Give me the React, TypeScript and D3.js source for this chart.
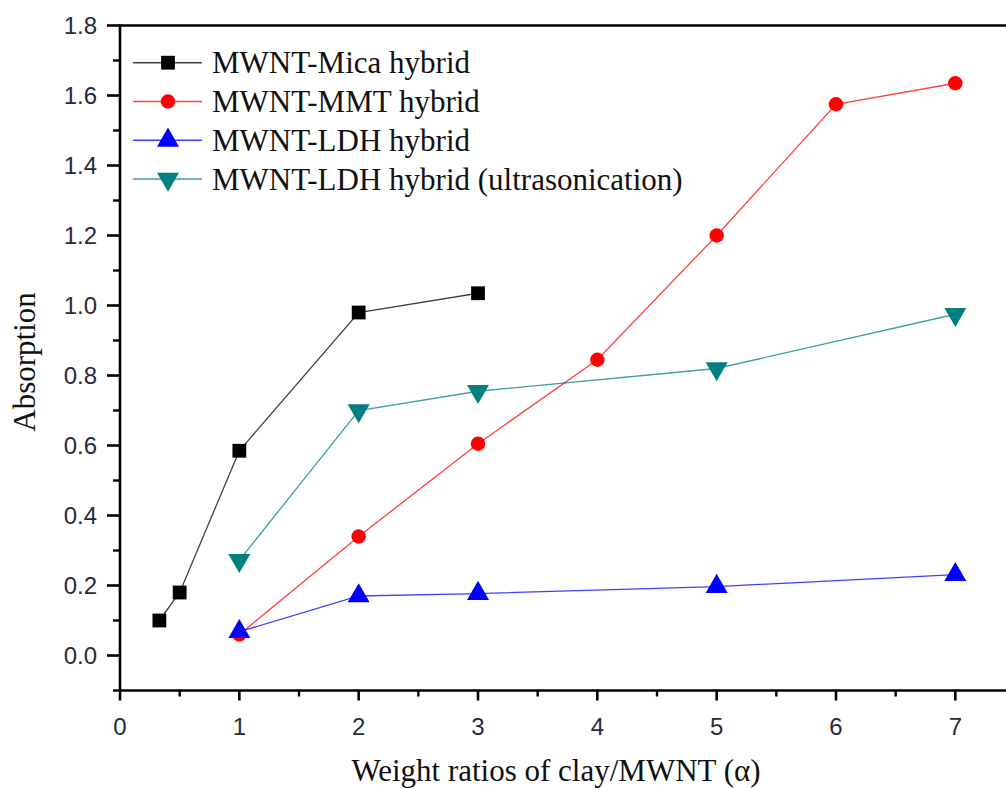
import React from "react";
import * as d3 from "d3";

const micaX = [0.33, 0.5, 1, 2, 3];
const micaY = [0.1, 0.18, 0.585, 0.98, 1.035];
const mmtX = [1, 2, 3, 4, 5, 6, 7];
const mmtY = [0.06, 0.34, 0.605, 0.845, 1.2, 1.575, 1.635];
const ldhX = [1, 2, 3, 5, 7];
const ldhY = [0.068, 0.17, 0.177, 0.197, 0.231];
const ldhUX = [1, 2, 3, 5, 7];
const ldhUY = [0.272, 0.7, 0.755, 0.82, 0.975];

const seriesNames = [
  "MWNT-Mica hybrid",
  "MWNT-MMT hybrid",
  "MWNT-LDH hybrid",
  "MWNT-LDH hybrid (ultrasonication)",
];

const xMajor = [0, 1, 2, 3, 4, 5, 6, 7];
const yMajor = [0, 0.2, 0.4, 0.6, 0.8, 1.0, 1.2, 1.4, 1.6, 1.8];

const W = 1006;
const H = 789;

export default function App() {
  const x = d3.scaleLinear().domain([0, 7.5]).range([120, 1015]);
  const y = d3.scaleLinear().domain([-0.1, 1.8]).range([690.5, 25.5]);

  const series = [
    { name: seriesNames[0], xs: micaX, ys: micaY, color: "#000000", sym: d3.symbolSquare, size: 190, rot: 0 },
    { name: seriesNames[1], xs: mmtX, ys: mmtY, color: "#ff0000", sym: d3.symbolCircle, size: 165, rot: 0 },
    { name: seriesNames[2], xs: ldhX, ys: ldhY, color: "#0000ff", sym: d3.symbolTriangle, size: 210, rot: 0 },
    { name: seriesNames[3], xs: ldhUX, ys: ldhUY, color: "#008080", sym: d3.symbolTriangle, size: 210, rot: 180 },
  ];

  const line = d3
    .line<[number, number]>()
    .x((d) => x(d[0]))
    .y((d) => y(d[1]));

  const xMinor = d3.range(0.5, 7.6, 1);
  const yMinor = d3.range(-0.1, 1.75, 0.2);

  const x0 = x(0);
  const yb = y(-0.1);
  const yt = y(1.8);

  const tickFont = "'Liberation Sans', Arial, sans-serif";
  const serif = "'Liberation Serif', 'Times New Roman', serif";

  return (
    <svg
      width={W}
      height={H}
      style={{ position: "absolute", left: 0, top: 0, background: "#fff" }}
    >
      <rect x={0} y={0} width={W} height={H} fill="#ffffff" />
      {/* series lines */}
      {series.map((s) => (
        <path
          key={s.name + "l"}
          d={line(s.xs.map((v, i) => [v, s.ys[i]] as [number, number])) || ""}
          fill="none"
          stroke={s.color}
          strokeWidth={1.3}
          opacity={0.75}
        />
      ))}
      {/* markers */}
      {series.map((s) =>
        s.xs.map((v, i) => (
          <path
            key={s.name + i}
            d={d3.symbol().type(s.sym).size(s.size)() || ""}
            transform={`translate(${x(v)},${y(s.ys[i])}) rotate(${s.rot})`}
            fill={s.color}
          />
        ))
      )}
      {/* axes */}
      <line x1={x0} x2={x0} y1={yt - 1} y2={yb + 1} stroke="#000" strokeWidth={2.6} />
      <line x1={x0 - 1} x2={W} y1={yb} y2={yb} stroke="#000" strokeWidth={2.6} />
      <line x1={x0 - 1} x2={W} y1={yt} y2={yt} stroke="#000" strokeWidth={2.6} />
      {yMajor.map((v) => (
        <g key={"ym" + v}>
          <line x1={x0 - 13} x2={x0} y1={y(v)} y2={y(v)} stroke="#000" strokeWidth={2.6} />
          <text
            x={97}
            y={y(v)}
            textAnchor="end"
            dominantBaseline="central"
            fontFamily={tickFont}
            fontSize={24}
            fill="#2a2a3a"
          >
            {v.toFixed(1)}
          </text>
        </g>
      ))}
      {yMinor.map((v) => (
        <line key={"yn" + v} x1={x0 - 7} x2={x0} y1={y(v)} y2={y(v)} stroke="#000" strokeWidth={2.4} />
      ))}
      {xMajor.map((v) => (
        <g key={"xm" + v}>
          <line x1={x(v)} x2={x(v)} y1={yb} y2={yb + 10} stroke="#000" strokeWidth={2.6} />
          <text
            x={x(v)}
            y={735}
            textAnchor="middle"
            fontFamily={tickFont}
            fontSize={24}
            fill="#2a2a3a"
          >
            {v}
          </text>
        </g>
      ))}
      {xMinor.map((v) => (
        <line key={"xn" + v} x1={x(v)} x2={x(v)} y1={yb} y2={yb + 6} stroke="#000" strokeWidth={2.4} />
      ))}
      {/* axis titles */}
      <text
        x={556}
        y={781}
        textAnchor="middle"
        fontFamily={serif}
        fontSize={31}
        fill="#111"
      >
        Weight ratios of clay/MWNT (α)
      </text>
      <text
        transform={`translate(35,362) rotate(-90)`}
        textAnchor="middle"
        fontFamily={serif}
        fontSize={31}
        fill="#111"
      >
        Absorption
      </text>
      {/* legend */}
      {series.map((s, i) => {
        const ly = 62.7 + i * 38.8;
        return (
          <g key={s.name + "leg"}>
            <line x1={133} x2={202} y1={ly} y2={ly} stroke={s.color} strokeWidth={1.5} opacity={0.75} />
            <path
              d={d3.symbol().type(s.sym).size(s.size)() || ""}
              transform={`translate(168,${ly}) rotate(${s.rot})`}
              fill={s.color}
            />
            <text
              x={212}
              y={ly}
              dominantBaseline="central"
              fontFamily={serif}
              fontSize={31}
              fill="#111"
            >
              {s.name}
            </text>
          </g>
        );
      })}
    </svg>
  );
}
